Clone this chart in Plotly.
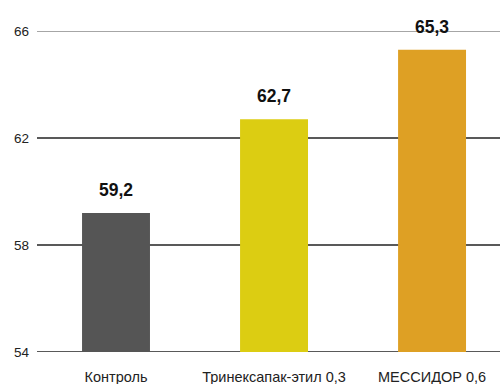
import plotly.graph_objects as go

categories = ["Контроль", "Тринексапак-этил 0,3", "МЕССИДОР 0,6"]
values = [59.2, 62.7, 65.3]
value_labels = ["59,2", "62,7", "65,3"]
colors = ["#555555", "#dccd12", "#dea024"]
y_ticks = [54, 58, 62, 66]

fig = go.Figure()
fig.add_trace(go.Bar(
    x=categories, y=values, marker=dict(color=colors, line=dict(width=0)),
    width=0.43, hoverinfo="skip",
))

for c, v, t in zip(categories, values, value_labels):
    fig.add_annotation(x=c, y=v, text=t, showarrow=False, yanchor="bottom",
                       yshift=11, font=dict(size=17.5, color="#111111",
                                            family="Liberation Sans, Arial, sans-serif",
                                            weight="bold"))

shapes = []
for t in y_ticks:
    shapes.append(dict(type="line", xref="paper", x0=0, x1=1, yref="y", y0=t, y1=t,
                       line=dict(color="#888888" if t == 66 else "#222222", width=1.3),
                       layer="below"))

fig.update_layout(
    width=500, height=384,
    margin=dict(l=37, r=0, t=31, b=32),
    paper_bgcolor="white", plot_bgcolor="white",
    showlegend=False, shapes=shapes,
    font=dict(family="Liberation Sans, Arial, sans-serif", size=12, color="#222222"),
    xaxis=dict(range=[-0.5, 2.43], showgrid=False, zeroline=False, showline=False,
               ticks="", ticklabelstandoff=14, tickfont=dict(size=14.5)),
    yaxis=dict(range=[54, 66], tickvals=y_ticks, showgrid=False, zeroline=False,
               showline=False, ticks="", ticklabelstandoff=7, tickfont=dict(size=13.5)),
)
fig.write_html("out.html")
